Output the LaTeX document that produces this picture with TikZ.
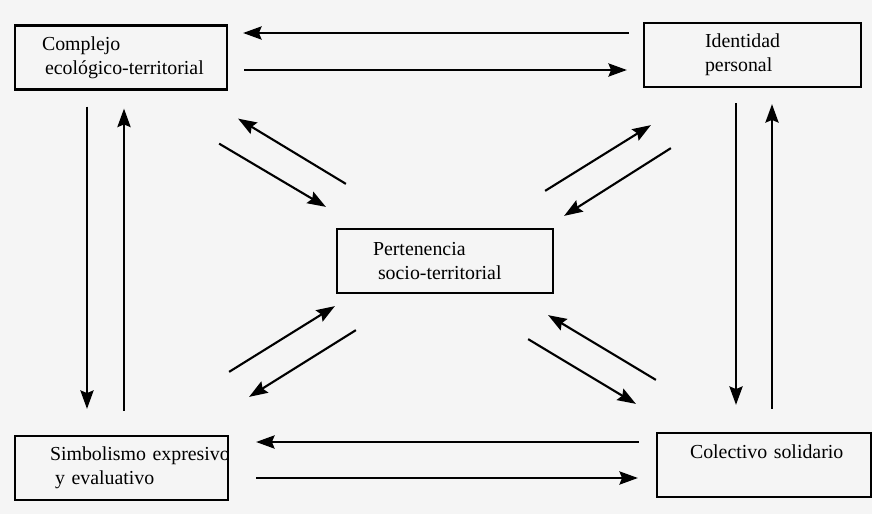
\documentclass[tikz,border=0pt]{standalone}
\usepackage{fontspec}
\setmainfont{Liberation Serif}
\usetikzlibrary{arrows.meta}

\tikzset{
  box/.style={draw, line width=1.3pt, inner xsep=0pt, inner ysep=0pt,
    minimum height=1.28cm, align=left, font=\fontsize{11.3}{13.6}\selectfont},
  arr/.style={line width=1.2pt, -{Stealth[length=10.5pt,width=7.5pt,inset=1.5pt]}}
}

\begin{document}
\begin{tikzpicture}[x=0.02cm, y=-0.02cm]
  \useasboundingbox (0,0) rectangle (872,514);
  \fill[white!96!black] (0,0) rectangle (872,514);

  % the five boxes
  \node[box, text width=4.24cm] (cet) at (121,57.5)
    {\hspace*{0.54cm}Complejo\\\hspace*{0.6cm}ecológico-territorial};
  \node[box, text width=4.34cm] (ide) at (752.5,55)
    {\hspace*{1.22cm}Identidad\\\hspace*{1.22cm}personal};
  \node[box, text width=4.32cm] (per) at (445,261)
    {\hspace*{0.72cm}Pertenencia\\\hspace*{0.82cm}socio-territorial};
  \node[box, text width=4.26cm] (sim) at (121.5,468)
    {\hspace*{0.7cm}\mbox{Simbolismo expresivo}\\\hspace*{0.8cm}y evaluativo};
  \node[box, text width=4.28cm, text height=0.5cm, text depth=0.78cm] (col) at (764,465)
    {\hspace*{0.66cm}Colectivo solidario};

  % top and bottom pairs
  \draw[arr, shorten <=0.28cm, shorten >=0.3cm] (ide.west |- 0,33) -- (cet.east |- 0,33);
  \draw[arr, shorten <=0.32cm, shorten >=0.32cm] (cet.east |- 0,70) -- (ide.west |- 0,70);
  \draw[arr, shorten <=0.34cm, shorten >=0.54cm] (col.west |- 0,442) -- (sim.east |- 0,442);
  \draw[arr, shorten <=0.54cm, shorten >=0.36cm] (sim.east |- 0,478) -- (col.west |- 0,478);

  % left and right pairs
  \draw[arr, shorten <=0.32cm, shorten >=0.52cm] (cet.south -| 87,0) -- (sim.north -| 87,0);
  \draw[arr, shorten <=0.48cm, shorten >=0.36cm] (sim.north -| 124,0) -- (cet.south -| 124,0);
  \draw[arr, shorten <=0.3cm, shorten >=0.54cm] (ide.south -| 736,0) -- (col.north -| 736,0);
  \draw[arr, shorten <=0.46cm, shorten >=0.32cm] (col.north -| 772,0) -- (ide.south -| 772,0);

  % diagonals to and from the centre
  \draw[arr] ([shift={(10,-44)}]per.north west) -- ([shift={(10,28)}]cet.south east);
  \draw[arr] ([shift={(-9,53)}]cet.south east) -- ([shift={(-10,-21)}]per.north west);
  \draw[arr] ([shift={(-9,-37)}]per.north east) -- ([shift={(8,37)}]ide.south west);
  \draw[arr] ([shift={(28,60)}]ide.south west) -- ([shift={(10,-12)}]per.north east);
  \draw[arr] ([shift={(0,-63)}]sim.north east) -- ([shift={(-1,12)}]per.south west);
  \draw[arr] ([shift={(20,36)}]per.south west) -- ([shift={(20,-38)}]sim.north east);
  \draw[arr] ([shift={(0,-52)}]col.north west) -- ([shift={(-6,21)}]per.south east);
  \draw[arr] ([shift={(-26,45)}]per.south east) -- ([shift={(-20,-28)}]col.north west);
\end{tikzpicture}
\end{document}
